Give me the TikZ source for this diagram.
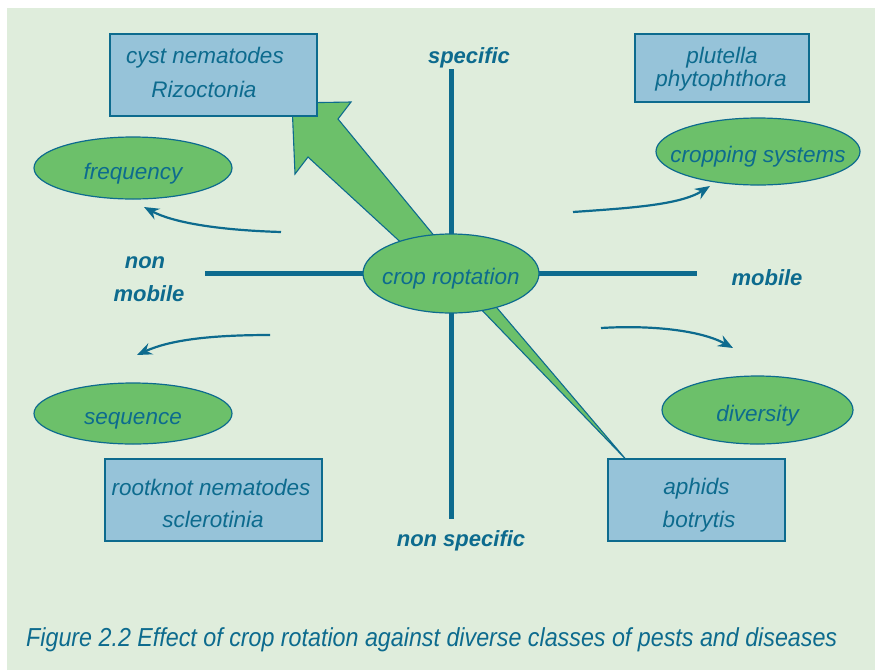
\documentclass[tikz,border=0pt]{standalone}
\usepackage{fontspec}
\setmainfont{Liberation Sans}
\newfontfamily\capfont{Liberation Sans}[FakeStretch=0.895]
\usetikzlibrary{arrows.meta,shapes.geometric}
\definecolor{bggreen}{HTML}{DFEDDC}
\definecolor{boxblue}{HTML}{96C3D9}
\definecolor{ellgreen}{HTML}{6CC06A}
\definecolor{tealc}{HTML}{0D6B8E}
\begin{document}
\begin{tikzpicture}[x=1pt,y=-1pt,
  every node/.style={text=tealc},
  ell/.style={ellipse, draw=tealc, line width=1.2pt, fill=ellgreen, inner sep=0pt,
    text height=22pt, text depth=0pt, font=\fontsize{22.5}{26}\selectfont\itshape},
  bx/.style={rectangle, draw=tealc, line width=1.2pt, fill=boxblue, inner sep=0pt},
  btxt/.style={anchor=base, inner sep=0pt, font=\fontsize{22.5}{26}\selectfont\itshape},
  axl/.style={anchor=base, inner sep=0pt, font=\fontsize{22}{26}\selectfont\bfseries\itshape},
  axis/.style={draw=tealc, line width=5pt},
  wedge/.style={fill=ellgreen, draw=tealc, line width=1.1pt, line join=miter},
  arr/.style={draw=tealc, line width=2.2pt, -{Stealth[length=15pt,width=12pt,inset=5pt]}}
]
\useasboundingbox (0,0) rectangle (875,670);
\fill[white] (0,0) rectangle (875,670);
\fill[bggreen] (7,8) rectangle (875,670);

% axes
\coordinate (vt) at (451,69);
\coordinate (vb) at (451,519);
\coordinate (hl) at (205,273);
\coordinate (hr) at (697,273);
\draw[axis] (vt) -- (vb);
\draw[axis] (hl) -- (hr);

% wedges
\draw[wedge] (433,272) -- (308,157) -- (295,174) -- (292,103) -- (351,102) -- (338,119) -- (464,272) -- cycle;
\draw[wedge] (448,275) -- (626,459.5) -- (469,275) -- cycle;

% boxes
\node[bx, minimum width=207pt, minimum height=82pt] (cyst) at (213.5,75) {};
\node[btxt] (cyst1) at (205,63) {cyst nematodes};
\node[btxt] (cyst2) at (204,97) {Rizoctonia};

\node[bx, minimum width=174pt, minimum height=68pt] (plut) at (722,68) {};
\node[btxt] (plut1) at (722,63) {plutella};
\node[btxt] (plut2) at (721,86) {phytophthora};

\node[bx, minimum width=217pt, minimum height=82pt] (root) at (213.5,500) {};
\node[btxt] (root1) at (211,495) {rootknot nematodes};
\node[btxt] (root2) at (213,527) {sclerotinia};

\node[bx, minimum width=177pt, minimum height=82pt] (aph) at (696.5,500) {};
\node[btxt] (aph1) at (696.5,494) {aphids};
\node[btxt] (aph2) at (699,527) {botrytis};

% ellipses
\node[ell, minimum width=198pt, minimum height=62pt] (freq) at (133,168) {\makebox[0pt]{frequency}};
\node[ell, minimum width=204pt, minimum height=67pt] (crops) at (758,151.5) {\makebox[0pt]{cropping systems}};
\node[ell, minimum width=176pt, minimum height=79pt] (crop) at (451,273.5) {\makebox[0pt]{crop roptation}};
\node[ell, minimum width=198pt, minimum height=61pt] (seq) at (133,413.5) {\makebox[0pt]{sequence}};
\node[ell, minimum width=191pt, minimum height=68pt] (div) at (757.5,410) {\makebox[0pt]{diversity}};

% axis labels
\node[axl] (spec) at (469,63) {specific};
\node[axl] (nspec) at (461,546) {non specific};
\node[axl] (mob) at (767,285) {mobile};
\node[axl] (non) at (145,268) {non};
\node[axl] (nmob) at (149,301) {mobile};

% curved arrows
\coordinate (f1) at (281,232); \coordinate (f2) at (144,207);
\draw[arr] (f1) .. controls (215,230) and (172,222) .. (f2);
\coordinate (s1) at (270,335); \coordinate (s2) at (137,355);
\draw[arr] (s1) .. controls (210,335) and (170,340) .. (s2);
\coordinate (c1) at (573,212); \coordinate (c2) at (710,186);
\draw[arr] (c1) .. controls (630,208) and (680,205) .. (c2);
\coordinate (d1) at (601,328); \coordinate (d2) at (733,348);
\draw[arr] (d1) .. controls (650,325) and (700,330) .. (d2);

% caption
\node[anchor=base west, inner sep=0pt, font=\capfont\itshape\fontsize{26}{30}\selectfont] (cap) at (26,646)
  {Figure 2.2 Effect of crop rotation against diverse classes of pests and diseases};
\end{tikzpicture}
\end{document}
